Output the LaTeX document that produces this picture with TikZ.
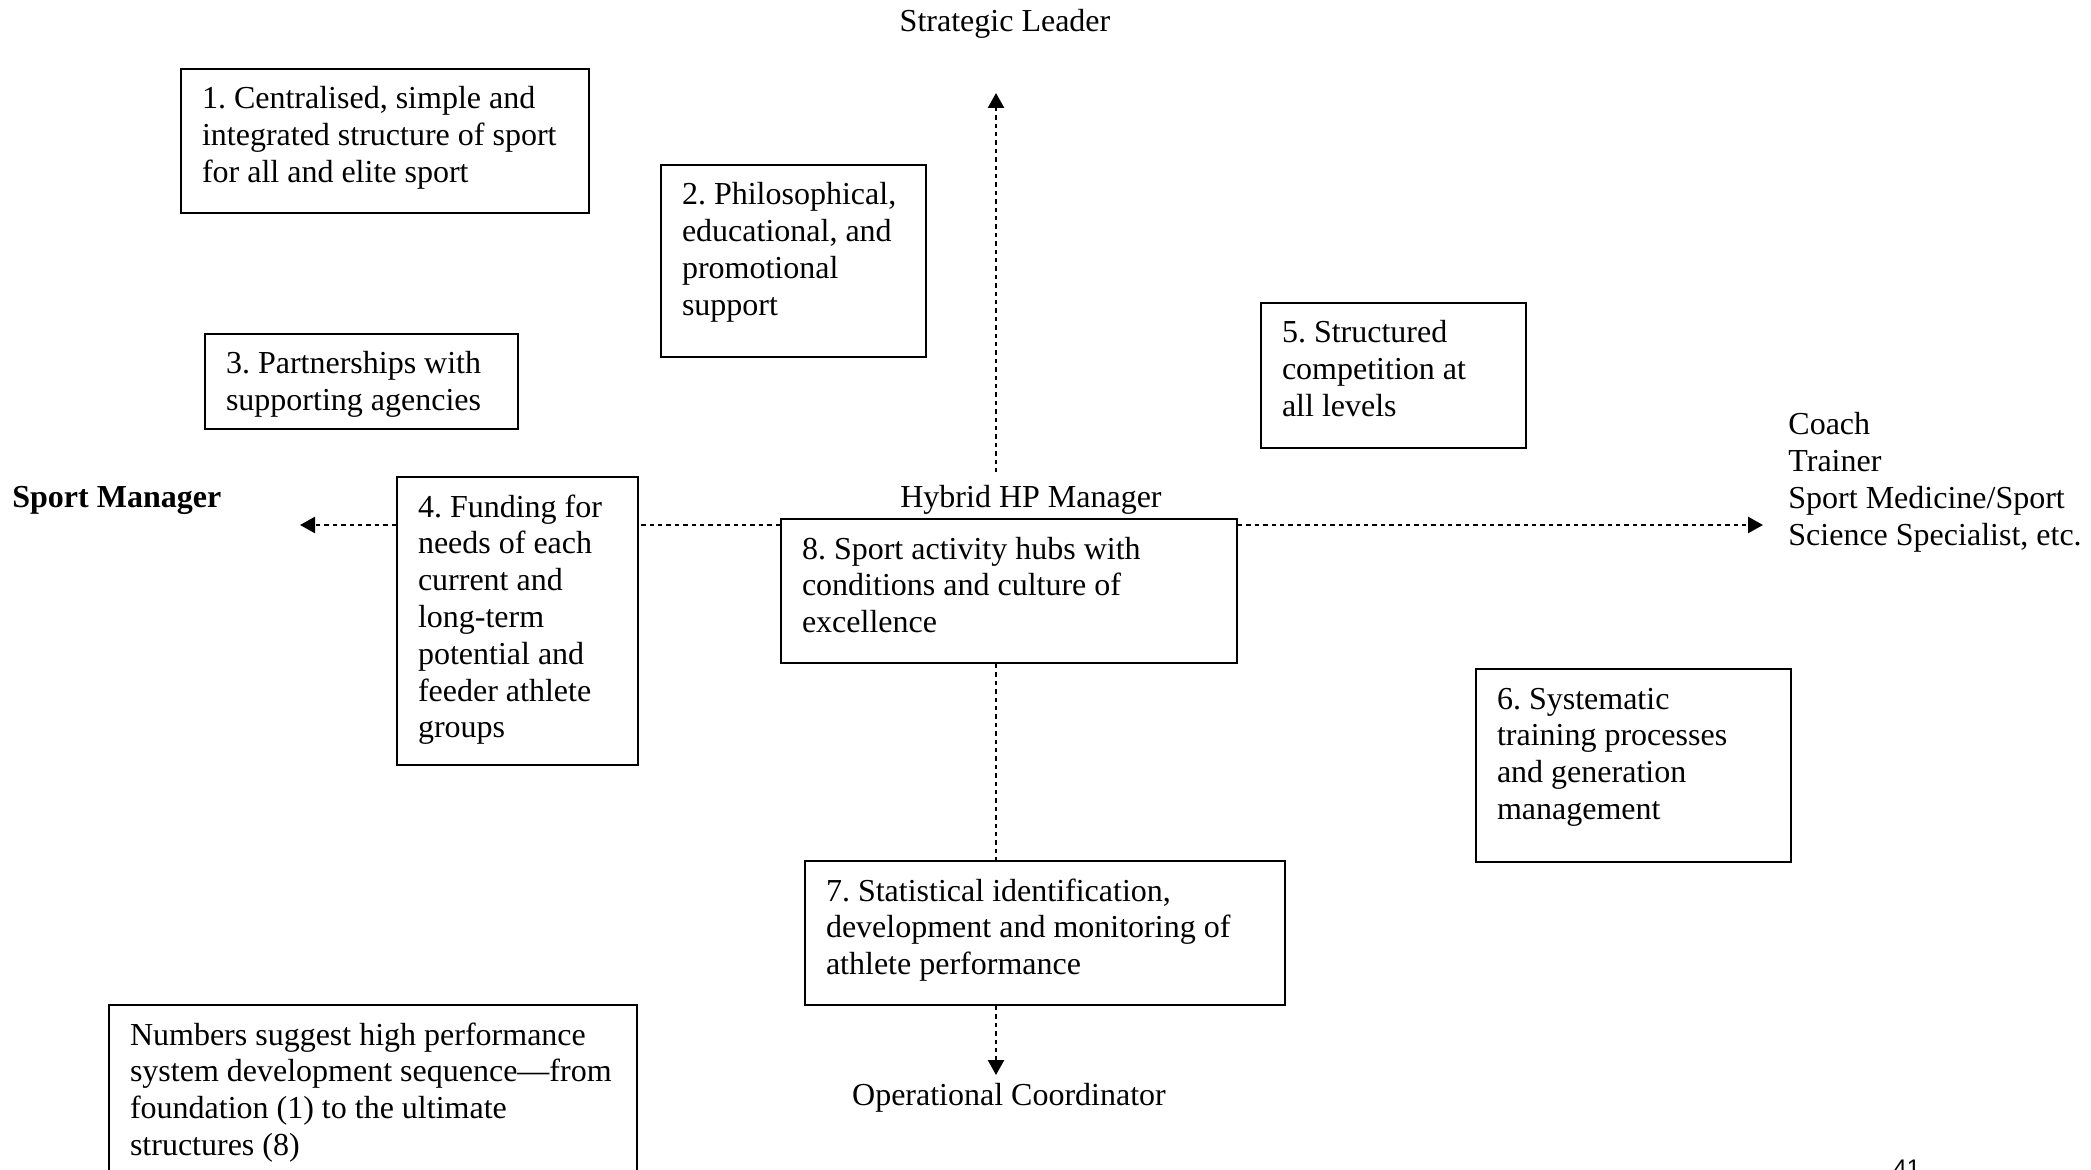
\documentclass[tikz,border=0pt]{standalone}
\usepackage{fontspec}
\setmainfont{Liberation Serif}
\newfontfamily\arialfont{Liberation Sans}
\usetikzlibrary{arrows.meta}
\frenchspacing
\newcommand{\bxt}[3]{\begin{minipage}[t][#2][t]{#1}\raggedright\rule{0pt}{20pt}#3\end{minipage}}
\tikzset{
  box/.style={draw, line width=1pt, inner xsep=10.5pt, inner ysep=0pt, anchor=north west},
  conn/.style={line width=1.2pt, dash pattern=on 2.2pt off 2pt, -{Triangle[length=7.5pt,width=8pt]}},
  seg/.style={line width=1.2pt, dash pattern=on 2.2pt off 2pt},
  lbl/.style={inner sep=0pt, anchor=base}
}
\begin{document}
\begin{tikzpicture}[x=0.5pt, y=-0.5pt, font=\fontsize{16pt}{18.4pt}\selectfont\frenchspacing]
\useasboundingbox (0,0) rectangle (2091,1170);
\clip (0,0) rectangle (2091,1170);
\fill[white] (0,0) rectangle (2091,1170);

% boxes
\node[box] (b1) at (180,68) {\bxt{183pt}{72pt}{1. Centralised, simple and\\ integrated structure of sport\\ for all and elite sport}};
\node[box] (b2) at (660,164) {\bxt{111.5pt}{96pt}{2. Philosophical,\\ educational, and\\ promotional\\ support}};
\node[box] (b3) at (204,333) {\bxt{135.5pt}{47.5pt}{3. Partnerships with\\ supporting agencies}};
\node[box] (b4) at (396,476) {\bxt{99.5pt}{144pt}{4. Funding for\\ needs of each\\ current and\\ long-term\\ potential and\\ feeder athlete\\ groups}};
\node[box] (b5) at (1260,302) {\bxt{111.5pt}{72.5pt}{5. Structured\\ competition at\\ all levels}};
\node[box] (b6) at (1475,668) {\bxt{136.5pt}{96.5pt}{6. Systematic\\ training processes\\ and generation\\ management}};
\node[box] (b7) at (804,860) {\bxt{219pt}{72pt}{7. Statistical identification,\\ development and monitoring of\\ athlete performance}};
\node[box] (b8) at (780,518) {\bxt{207pt}{72pt}{8. Sport activity hubs with\\ conditions and culture of\\ excellence}};
\node[box] (note) at (108,1004) {\bxt{243pt}{110pt}{Numbers suggest high performance\\ system development sequence---from\\ foundation (1) to the ultimate\\ structures (8)}};

% labels
\node[lbl] (strat) at (1005,32) {Strategic Leader};
\node[lbl] (oper) at (1009,1105) {Operational Coordinator};
\node[anchor=base, inner xsep=0pt, inner ysep=6pt] (hyb) at (1031,507) {Hybrid HP Manager};
\node[lbl, anchor=base west] (sm) at (12,507) {\bfseries Sport Manager};
\node[lbl, anchor=base west, align=left] (coach) at (1788,545) {Coach\\ Trainer\\ Sport Medicine/Sport\\ Science Specialist, etc.};
\node[lbl, anchor=base west] (pg) at (1893,1176) {\arialfont\fontsize{12pt}{14pt}\selectfont 41};

% axis ends
\coordinate (top) at (996,93);
\coordinate (bot) at (996,1075);
\coordinate (left) at (300,525);
\coordinate (right) at (1763,525);

% connectors
\draw[conn] (top |- hyb.north) -- (top);
\draw[seg] (b8.south -| top) -- (b7.north -| top);
\draw[conn] (b7.south -| top) -- (bot);
\draw[conn] (b4.west |- left) -- (left);
\draw[seg] (b8.west |- left) -- (b4.east |- left);
\draw[conn] (b8.east |- right) -- (right);
\end{tikzpicture}
\end{document}
